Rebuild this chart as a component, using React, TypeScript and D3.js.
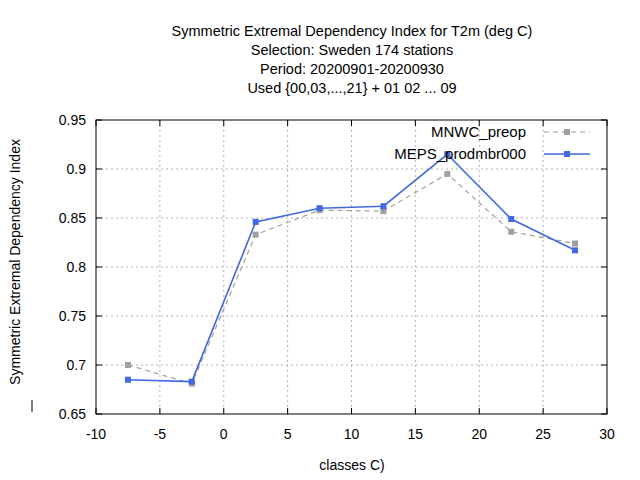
import React from 'react';
import * as d3 from 'd3';

const classes = [-7.5, -2.5, 2.5, 7.5, 12.5, 17.5, 22.5, 27.5];
const mnwc = [0.7, 0.681, 0.833, 0.858, 0.857, 0.895, 0.836, 0.824];
const meps = [0.685, 0.683, 0.846, 0.86, 0.862, 0.915, 0.849, 0.817];
const xTicks = [-10, -5, 0, 5, 10, 15, 20, 25, 30];
const yTicks = [0.65, 0.7, 0.75, 0.8, 0.85, 0.9, 0.95];
const titleLines = [
  'Symmetric Extremal Dependency Index  for T2m (deg C)',
  'Selection: Sweden    174 stations',
  'Period: 20200901-20200930',
  'Used {00,03,...,21} + 01 02 ... 09',
];

const L = 96, R = 607, T = 120, B = 414;
const font = 'Liberation Sans, Arial, sans-serif';

export default function App() {
  const x = d3.scaleLinear().domain([-10, 30]).range([L, R]);
  const y = d3.scaleLinear().domain([0.65, 0.95]).range([B, T]);
  const line = d3.line<number>().x((_, i) => x(classes[i])).y(d => y(d));
  const series = [
    { name: 'MNWC_preop', data: mnwc, color: '#a0a0a0', dash: '5,4', w: 1.2 },
    { name: 'MEPS_prodmbr000', data: meps, color: '#4169e1', dash: undefined, w: 1.6 },
  ];
  return (
    <svg width={640} height={480} style={{ position: 'absolute', left: 0, top: 0, background: '#fff', whiteSpace: 'pre' }}
      fontFamily={font} fontSize={14}>
      <rect width={640} height={480} fill="#fff" />
      {titleLines.map((t, i) => (
        <text key={i} x={352} y={36 + i * 19} textAnchor="middle" fontSize={14.5}>{t}</text>
      ))}
      {xTicks.slice(1, -1).map(t => (
        <line key={'gx' + t} x1={x(t)} x2={x(t)} y1={T} y2={B} stroke="#a0a0a0" strokeDasharray="2,3" strokeWidth={0.8} />
      ))}
      {yTicks.slice(1, -1).map(t => (
        <line key={'gy' + t} x1={L} x2={R} y1={y(t)} y2={y(t)} stroke="#a0a0a0" strokeDasharray="2,3" strokeWidth={0.8} />
      ))}
      <rect x={L} y={T} width={R - L} height={B - T} fill="none" stroke="#000" />
      {xTicks.map(t => (
        <g key={'tx' + t}>
          <line x1={x(t)} x2={x(t)} y1={B} y2={B - 6} stroke="#000" />
          <line x1={x(t)} x2={x(t)} y1={T} y2={T + 6} stroke="#000" />
          <text x={x(t)} y={B + 25} textAnchor="middle">{t}</text>
        </g>
      ))}
      {yTicks.map(t => (
        <g key={'ty' + t}>
          <line x1={L} x2={L + 6} y1={y(t)} y2={y(t)} stroke="#000" />
          <line x1={R} x2={R - 6} y1={y(t)} y2={y(t)} stroke="#000" />
          <text x={L - 10} y={y(t) + 5} textAnchor="end">{d3.format('.2f')(t).replace(/0$/, '')}</text>
        </g>
      ))}
      <text x={352} y={470} textAnchor="middle">classes C)</text>
      <text transform={`translate(20,${(T + B) / 2 - 5}) rotate(-90)`} textAnchor="middle">Symmetric Extremal Dependency Index</text>
      <line x1={32} x2={32} y1={400} y2={412} stroke="#000" />
      {series.map((s, k) => (
        <g key={s.name}>
          <path d={line(s.data) || ''} fill="none" stroke={s.color} strokeWidth={s.w} strokeDasharray={s.dash} />
          {s.data.map((v, i) => (
            <rect key={i} x={x(classes[i]) - 3} y={y(v) - 3} width={6} height={6} fill={s.color} />
          ))}
          <text x={526} y={137 + k * 22} textAnchor="end" fontSize={15}>{s.name}</text>
          <line x1={544} x2={590} y1={132 + k * 22} y2={132 + k * 22} stroke={s.color} strokeWidth={s.w} strokeDasharray={s.dash} />
          <rect x={564} y={129 + k * 22} width={6} height={6} fill={s.color} />
        </g>
      ))}
    </svg>
  );
}
